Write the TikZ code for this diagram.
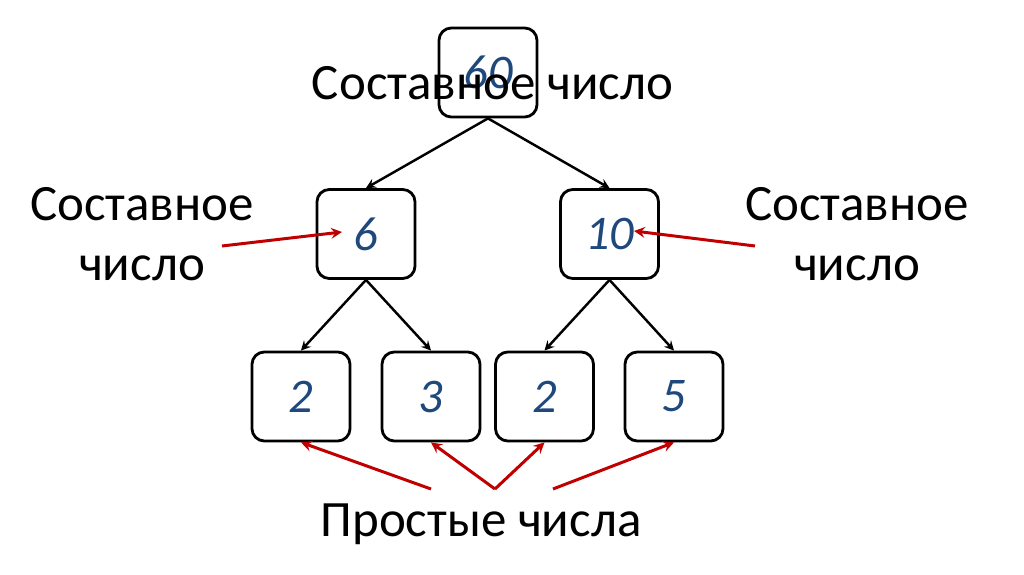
\documentclass[tikz,border=0pt]{standalone}
\usepackage{fontspec}
\setmainfont{Carlito}
\usepackage{tikz}

\definecolor{numblue}{RGB}{31,73,125}
\definecolor{arrred}{RGB}{192,0,0}

\tikzset{
  numbox/.style={draw, line width=1.6pt, rounded corners=7pt, minimum width=1.96cm,
    minimum height=1.78cm, font=\fontsize{27.5}{30}\selectfont\itshape, text=numblue},
  lbl/.style={font=\fontsize{29}{34}\selectfont, align=center},
  tree/.style={->, line width=1.4pt},
  hint/.style={->, line width=1.7pt, arrred}
}

\begin{document}
\begin{tikzpicture}[>=stealth]
                \useasboundingbox (0,0) rectangle (20.48,11.48);

                \node[numbox] (n60) at (9.76,10.03) {60};
                \node[numbox] (n6) at (7.32,6.80) {6};
                \node[numbox] (n10) at (12.19,6.80) {10};
                \node[numbox] (n2a) at (6.02,3.55) {2};
                \node[numbox] (n3) at (8.62,3.55) {3};
                \node[numbox] (n2b) at (10.89,3.55) {2};
                \node[numbox] (n5) at (13.48,3.55) {5};

                \node[lbl, anchor=base] (top) at (9.85,9.48) {Составное число};
                \node[lbl] (left) at (2.84,6.80) {Составное\\число};
                \node[lbl] (right) at (17.14,6.80) {Составное\\число};
                \node[lbl, anchor=base] (prime) at (9.62,0.76) {Простые числа};

                \draw[tree] (n60.south) -- (n6.north);
                \draw[tree] (n60.south) -- (n10.north);
                \draw[tree] (n6.south) -- (n2a.north);
                \draw[tree] (n6.south) -- (n3.north);
                \draw[tree] (n10.south) -- (n2b.north);
                \draw[tree] (n10.south) -- (n5.north);

                % red hints
                \coordinate (ls) at (4.44,6.56);
                \coordinate (lt) at (6.84,6.84);
                \coordinate (rs) at (15.10,6.56);
                \coordinate (rt) at (12.68,6.86);
                \coordinate (b1) at (8.62,1.70);
                \coordinate (b2) at (9.90,1.70);
                \coordinate (b3) at (11.06,1.70);
                \draw[hint] (ls) -- (lt);
                \draw[hint] (rs) -- (rt);
                \draw[hint] (b1) -- (n2a.south);
                \draw[hint] (b2) -- (n3.south);
                \draw[hint] (b2) -- (n2b.south);
                \draw[hint] (b3) -- (n5.south);
            \end{tikzpicture}
\end{document}
